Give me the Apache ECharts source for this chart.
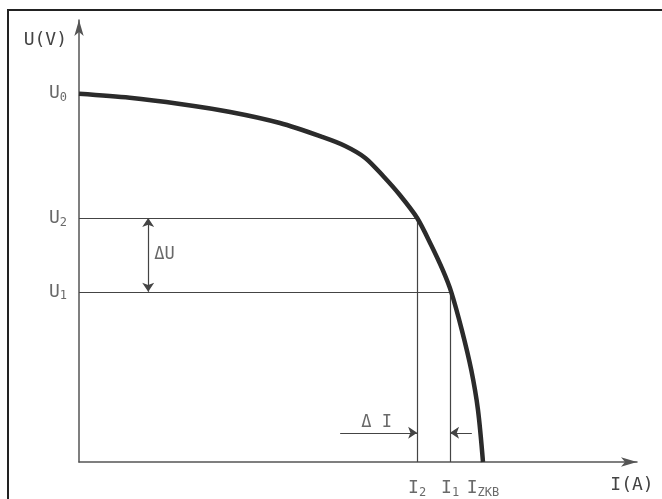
<!DOCTYPE html>
<html>
<head>
<meta charset="utf-8">
<script src="https://cdn.jsdelivr.net/npm/echarts@6/dist/echarts.min.js"></script>
<style>
  html, body { margin: 0; padding: 0; background: #fff; }
  #chart { width: 662px; height: 499px; }
</style>
</head>
<body>
<div id="chart"></div>
<script>
// curve U(I) (axis units 0..100)
const curveI = [0, 9.1, 18.1, 27.1, 36.0, 43.7, 47.7, 51.3, 54.5, 57.5, 60.6, 63.1, 65.2, 66.7, 68.6, 70.3, 71.5, 72.4];
const curveU = [83.3, 82.4, 81.0, 79.2, 76.7, 73.5, 71.5, 68.8, 64.7, 60.4, 55.2, 49.1, 43.4, 38.5, 29.9, 20.8, 11.8, 0];

// marked levels
const uLabels = ['0', '2', '1'];        // U0, U2, U1
const uValues = [83.3, 55.2, 38.5];
const iLabels = ['2', '1', 'ZKB'];      // I2, I1, Izkb
const iValues = [60.6, 66.5, 72.4];

const dU = { x: 12.4, from: 38.5, to: 55.2, text: 'ΔU' };
const dI = { y: 6.6, leftFrom: 46.8, rightFrom: 70.4, text: 'Δ I' };

const chart = echarts.init(document.getElementById('chart'));

const ink = '#2b2b2b';
const thin = '#444';
const font = 'DejaVu Sans Mono';

const richText = {
  m: { fontFamily: font, fontSize: 18, color: thin },
  s: { fontFamily: font, fontSize: 12, color: thin, padding: [9, 0, 0, 0] }
};

// helper lines: U2/U1 and I2/I1
const guideLines = [
  [[0, uValues[1]], [iValues[0], uValues[1]]],
  [[iValues[0], 0], [iValues[0], uValues[1]]],
  [[0, uValues[2]], [iValues[1], uValues[2]]],
  [[iValues[1], 0], [iValues[1], uValues[2]]]
];

const option = {
  animation: false,
  grid: { left: 79, right: 25, top: 20, bottom: 37 },
  xAxis: {
    type: 'value', min: 0, max: 100,
    name: 'I(A)', nameLocation: 'end', nameGap: -5,
    nameTextStyle: { fontFamily: font, fontSize: 18, color: thin, align: 'center', verticalAlign: 'top', padding: [14, 0, 0, 0] },
    axisLine: { lineStyle: { color: '#555', width: 1.5 }, symbol: ['none', 'arrow'], symbolSize: [7, 16] },
    axisTick: { show: false }, axisLabel: { show: false }, splitLine: { show: false }
  },
  yAxis: {
    type: 'value', min: 0, max: 100,
    name: 'U(V)', nameLocation: 'end', nameGap: -20,
    nameTextStyle: { fontFamily: font, fontSize: 18, color: thin, align: 'right', verticalAlign: 'middle', padding: [0, 12, 0, 0] },
    axisLine: { lineStyle: { color: '#555', width: 1.5 }, symbol: ['none', 'arrow'], symbolSize: [7, 16] },
    axisTick: { show: false }, axisLabel: { show: false }, splitLine: { show: false }
  },
  graphic: [{
    type: 'rect', shape: { x: 8, y: 10, width: 700, height: 600 },
    style: { fill: 'none', stroke: '#222', lineWidth: 2 }, silent: true
  }],
  series: [
    {
      type: 'lines', coordinateSystem: 'cartesian2d',
      lineStyle: { color: thin, width: 1.2, opacity: 1 },
      data: guideLines.map(c => ({ coords: c }))
    },
    {
      type: 'lines', coordinateSystem: 'cartesian2d',
      symbol: ['none', 'arrow'], symbolSize: 9,
      lineStyle: { color: thin, width: 1.2, opacity: 1 },
      data: [
        { coords: [[dU.x, (dU.from + dU.to) / 2], [dU.x, dU.to]] },
        { coords: [[dU.x, (dU.from + dU.to) / 2], [dU.x, dU.from]] },
        { coords: [[dI.leftFrom, dI.y], [iValues[0], dI.y]] },
        { coords: [[dI.rightFrom, dI.y], [iValues[1], dI.y]] }
      ]
    },
    {
      type: 'line', smooth: 0.3, showSymbol: false,
      lineStyle: { color: ink, width: 4.5 },
      data: curveI.map((x, i) => [x, curveU[i]])
    },
    {
      type: 'scatter', symbolSize: 0,
      label: { show: true, position: 'left', distance: 12, formatter: p => '{m|U}{s|' + p.data[2] + '}', rich: richText },
      data: uValues.map((v, i) => [0, v, uLabels[i]])
    },
    {
      type: 'scatter', symbolSize: 0,
      label: { show: true, position: 'bottom', distance: 16, formatter: p => '{m|I}{s|' + p.data[2] + '}', rich: richText },
      data: iValues.map((v, i) => [v, 0, iLabels[i]])
    },
    {
      type: 'scatter', symbolSize: 0,
      label: { show: true, position: 'right', distance: 6, fontFamily: font, fontSize: 17, color: thin, formatter: p => p.data[2] },
      data: [
        [dU.x, (dU.from + dU.to) / 2, dU.text],
        [49.5, dI.y + 2.4, dI.text]
      ]
    }
  ]
};

chart.setOption(option);
</script>
</body>
</html>
